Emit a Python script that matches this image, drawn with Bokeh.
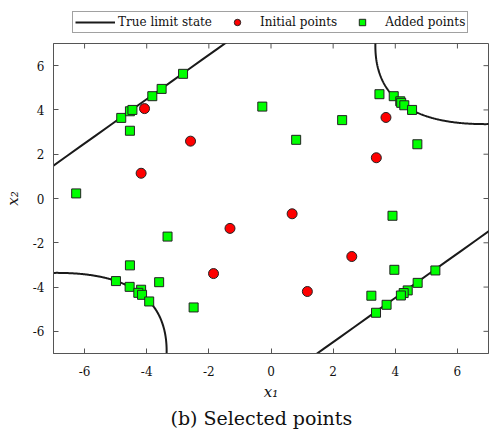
import numpy as np
from bokeh.plotting import figure
from bokeh.layouts import column
from bokeh.models import Range1d, Legend, LegendItem, Title, FixedTicker
from bokeh.embed import file_html
from bokeh.resources import INLINE

# ---- data ----
init_x1 = [-4.07, -2.59, -4.18, 3.70, 3.39, -1.32, -1.85, 0.68, 2.60, 1.17]
init_x2 = [4.06, 2.59, 1.14, 3.66, 1.84, -1.35, -3.39, -0.69, -2.62, -4.20]

added_x1 = [-6.27, -4.82, -4.54, -4.46, -4.54, -3.82, -3.52, -2.83, -0.28,
            0.81, 2.29, 3.49, 3.95, 4.16, 4.19, 4.29, 4.54, 4.71,
            -3.33, -4.54, -4.99, -4.55, -4.18, -4.27, -4.15, -3.92, -3.60, -2.49,
            3.91, 3.97, 5.29, 4.72, 4.40, 4.27, 4.18, 3.23, 3.72, 3.38]
added_x2 = [0.23, 3.64, 3.94, 4.00, 3.06, 4.62, 4.95, 5.63, 4.15,
            2.65, 3.54, 4.71, 4.62, 4.39, 4.32, 4.21, 4.00, 2.45,
            -1.72, -3.02, -3.73, -3.99, -4.12, -4.26, -4.35, -4.65, -3.78, -4.92,
            -0.78, -3.22, -3.25, -3.81, -4.15, -4.27, -4.38, -4.39, -4.80, -5.16]

ticks = [-6, -4, -2, 0, 2, 4, 6]
tick_labels = {t: str(t) for t in ticks}
x_lim = (-7, 7)
y_lim = (-7, 7)

legend_labels = ["True limit state", "Initial points", "Added points"]

# limit state: four-branch system, g = min(...)
LS_A = 6.0      # offset of the parabolic branches (rotated coords)
LS_B = 0.1      # curvature coefficient
LS_K = 6.0      # distance of linear branches (rotated coords)

FONT = "DejaVu Serif"
AXC = "#555555"
curve_style = dict(line_color="#1a1a1a", line_width=2)
init_style = dict(marker="circle", size=10, fill_color="#ff0000",
                  line_color="#222222", line_width=1)
add_style = dict(marker="square", size=9, fill_color="#00ff00",
                 line_color="#222222", line_width=1)

# limit-state curve coordinates
s = np.sqrt(2.0)
v = np.linspace(-4.0, 4.0, 400)
u = LS_A + 2 * LS_B * v ** 2
par_x1, par_x2 = (u + v) / s, (u - v) / s
t = np.linspace(-12, 12, 50)

# ---------------- main plot ----------------
p = figure(width=491, height=388, output_backend="svg", toolbar_location=None,
           x_range=Range1d(*x_lim), y_range=Range1d(*y_lim),
           min_border_left=53, min_border_right=3, min_border_top=1,
           min_border_bottom=77)
p.xgrid.visible = False
p.ygrid.visible = False
p.outline_line_color = AXC
p.outline_line_width = 1

p.line(par_x1, par_x2, **curve_style)
p.line(-par_x1, -par_x2, **curve_style)
p.line(t, t + LS_K * s, **curve_style)
p.line(t, t - LS_K * s, **curve_style)

p.scatter(init_x1, init_x2, **init_style)
p.scatter(added_x1, added_x2, **add_style)

# mirrored inward ticks on the top and right edges
p.scatter(ticks, [y_lim[1]] * len(ticks), marker="dash", angle=np.pi / 2,
          size=10, line_color=AXC, line_width=1)
p.scatter([x_lim[1]] * len(ticks), ticks, marker="dash",
          size=10, line_color=AXC, line_width=1)

for ax in (p.xaxis[0], p.yaxis[0]):
    ax.ticker = FixedTicker(ticks=ticks)
    ax.major_label_overrides = tick_labels
    ax.major_tick_in = 5
    ax.major_tick_out = 0
    ax.minor_tick_line_color = None
    ax.axis_line_color = AXC
    ax.major_tick_line_color = AXC
    ax.major_label_text_font = FONT
    ax.major_label_text_font_size = "12px"
    ax.major_label_text_color = "#111111"
    ax.axis_label_text_font = FONT
    ax.axis_label_text_font_style = "italic"
    ax.axis_label_text_font_size = "15px"
    ax.axis_label_text_color = "#111111"

p.xaxis.axis_label = "x₁"
p.yaxis.axis_label = "x₂"
p.xaxis.major_label_standoff = 12
p.yaxis.major_label_standoff = 9
p.xaxis.axis_label_standoff = 4
p.yaxis.axis_label_standoff = 8

cap = Title(text="(b) Selected points", align="left", text_font=FONT,
            text_font_size="19px", text_font_style="normal", text_color="#111111",
            standoff=2, offset=117)
p.add_layout(cap, "below")

# ---------------- legend strip ----------------
# the strip's ranges lie outside the data, so only the legend is visible
lg = figure(width=491, height=42, output_backend="svg", toolbar_location=None,
            x_range=Range1d(100, 101), y_range=Range1d(100, 101),
            min_border_left=0, min_border_right=0, min_border_top=0,
            min_border_bottom=0)
lg.axis.visible = False
lg.grid.visible = False
lg.outline_line_color = None
r1 = lg.line(par_x1, par_x2, **curve_style)
r2 = lg.scatter(init_x1, init_x2, **init_style)
r3 = lg.scatter(added_x1, added_x2, **add_style)
legend = Legend(items=[LegendItem(label=legend_labels[0], renderers=[r1]),
                       LegendItem(label=legend_labels[1], renderers=[r2]),
                       LegendItem(label=legend_labels[2], renderers=[r3])],
                orientation="horizontal", location=(19, 9),
                glyph_width=40, glyph_height=16, label_height=16,
                label_standoff=3, spacing=5, padding=2, margin=0,
                label_text_font=FONT, label_text_font_size="12px",
                label_text_color="#111111",
                border_line_color="#444444", border_line_width=1,
                background_fill_alpha=1)
lg.add_layout(legend, "center")

layout = column(lg, p, spacing=0)
open("out.html", "w").write(file_html(layout, INLINE))
